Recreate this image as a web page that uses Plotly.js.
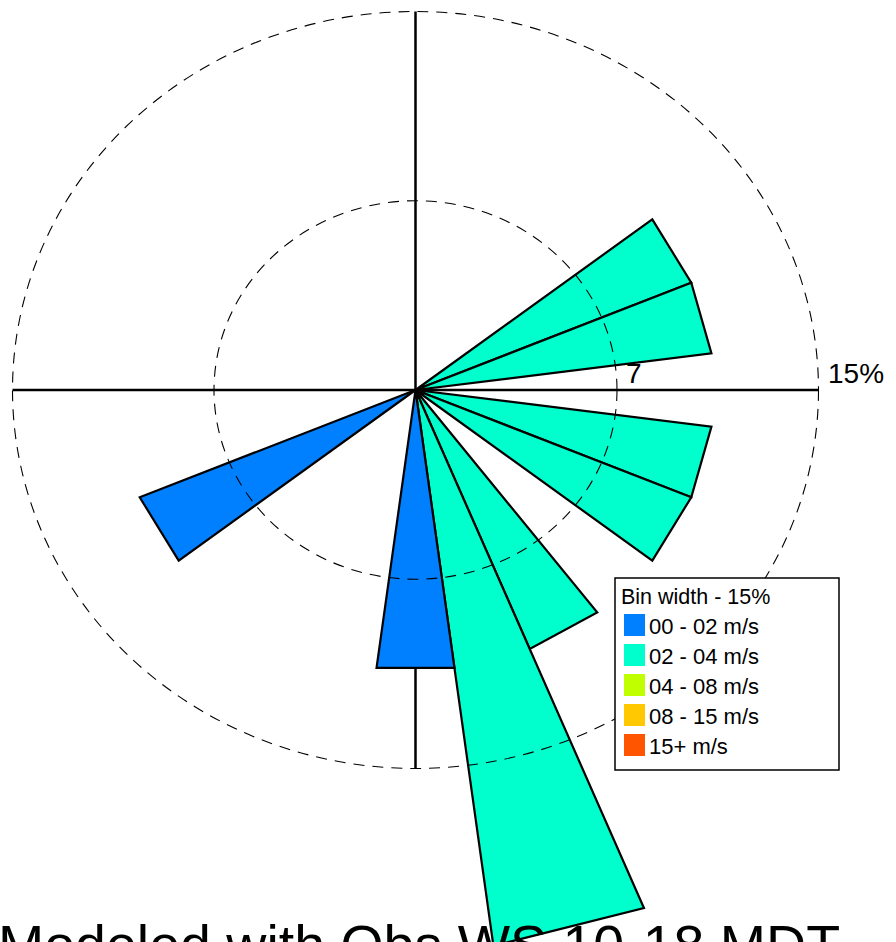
<!DOCTYPE html>
<html>
<head>
<meta charset="utf-8">
<script src="https://cdn.plot.ly/plotly-3.0.1.min.js"></script>
<style>html,body{margin:0;padding:0;background:#fff;}#chart{width:896px;height:942px;}</style>
</head>
<body>
<div id="chart"></div>
<script>
// ---- data ----
const directions = [0,15,30,45,60,75,90,105,120,135,150,165,180,195,210,225,240,255,270,285,300,315,330,345];
const speedBins = ['00 - 02 m/s','02 - 04 m/s','04 - 08 m/s','08 - 15 m/s','15+ m/s'];
const binColors = ['#0080FF','#00FFCC','#BFFF00','#FFC800','#FF5500'];
const freq_00_02 = [0,0,0,0,0,0,0,0,0,0,0,0,11.11,0,0,0,11.11,0,0,0,0,0,0,0];
const freq_02_04 = [0,0,0,0,11.11,11.11,0,11.11,11.11,0,11.11,22.22,0,0,0,0,0,0,0,0,0,0,0,0];
const freq_04_08 = [0,0,0,0,0,0,0,0,0,0,0,0,0,0,0,0,0,0,0,0,0,0,0,0];
const freq_08_15 = [0,0,0,0,0,0,0,0,0,0,0,0,0,0,0,0,0,0,0,0,0,0,0,0];
const freq_15p   = [0,0,0,0,0,0,0,0,0,0,0,0,0,0,0,0,0,0,0,0,0,0,0,0];
const ringValues = [7.5, 15];
const ringLabels = ['7', '15%'];
const legendTitle = 'Bin width - 15%';
const titleText = 'Modeled with Obs WS 10-18 MDT';

// ---- geometry of the frame (layout only) ----
const W = 896, H = 942;
const CX = 415.5, CY = 390;
const SX = 403 / 15, SY = 378.5 / 15;
const sectorWidth = 360 / directions.length;
const bins = [freq_00_02, freq_02_04, freq_04_08, freq_08_15, freq_15p];
const rMax = ringValues[ringValues.length - 1];

function pol(r, deg) {
  const a = deg * Math.PI / 180;
  return [r * Math.sin(a), r * Math.cos(a)];
}
const px = v => v / W;
const py = v => 1 - v / H;

const traces = [];
directions.forEach((d, i) => {
  let r0 = 0;
  bins.forEach((arr, b) => {
    const v = arr[i];
    if (v > 0) {
      const r1 = r0 + v;
      const a1 = d - sectorWidth / 2, a2 = d + sectorWidth / 2;
      const pts = [];
      if (r0 === 0) pts.push([0, 0]); else pts.push(pol(r0, a1));
      pts.push(pol(r1, a1));
      pts.push(pol(r1, a2));
      if (r0 !== 0) pts.push(pol(r0, a2));
      pts.push(pts[0]);
      traces.push({
        type: 'scatter', mode: 'lines',
        x: pts.map(p => p[0]), y: pts.map(p => p[1]),
        fill: 'toself', fillcolor: binColors[b],
        line: {color: '#000', width: 2.2},
        hoverinfo: 'skip', showlegend: false
      });
      r0 = r1;
    }
  });
});

const shapes = [];
// axis cross (below bars)
shapes.push({type: 'line', xref: 'x', yref: 'y', x0: -rMax, x1: rMax, y0: 0, y1: 0,
  line: {color: '#000', width: 2.5}, layer: 'below'});
shapes.push({type: 'line', xref: 'x', yref: 'y', x0: 0, x1: 0, y0: -rMax, y1: rMax,
  line: {color: '#000', width: 2.5}, layer: 'below'});
// dashed rings (above bars)
ringValues.forEach(r => {
  shapes.push({type: 'circle', xref: 'x', yref: 'y', x0: -r, x1: r, y0: -r, y1: r,
    line: {color: '#000', width: 1.1, dash: '11px,8px'}, layer: 'above'});
});

const annotations = [];
ringValues.forEach((r, k) => {
  annotations.push({xref: 'x', yref: 'y', x: r, y: 0, text: ringLabels[k], showarrow: false,
    xanchor: 'left', yanchor: 'bottom', xshift: 7, yshift: -1,
    font: {family: 'Liberation Sans, Arial, sans-serif', size: 28, color: '#000'}});
});

// legend box
const LX0 = 615, LY0 = 578, LX1 = 839, LY1 = 770;
shapes.push({type: 'rect', xref: 'paper', yref: 'paper', x0: px(LX0), x1: px(LX1), y0: py(LY1), y1: py(LY0),
  line: {color: '#000', width: 1.5}, fillcolor: '#fff', layer: 'above'});
annotations.push({xref: 'paper', yref: 'paper', x: px(619), y: py(597), text: legendTitle, showarrow: false,
  xanchor: 'left', yanchor: 'middle', font: {family: 'Liberation Sans, Arial, sans-serif', size: 21.5, color: '#000'}});
speedBins.forEach((lab, k) => {
  const cy = 625 + 30 * k;
  shapes.push({type: 'rect', xref: 'paper', yref: 'paper', x0: px(624), x1: px(645), y0: py(cy + 11), y1: py(cy - 11),
    line: {width: 0}, fillcolor: binColors[k], layer: 'above'});
  annotations.push({xref: 'paper', yref: 'paper', x: px(647), y: py(cy + 1), text: lab, showarrow: false,
    xanchor: 'left', yanchor: 'middle', font: {family: 'Liberation Sans, Arial, sans-serif', size: 22, color: '#000'}});
});

// title at bottom (cut by page edge, as in the reference)
annotations.push({xref: 'paper', yref: 'paper', x: px(419), y: py(912), text: titleText, showarrow: false,
  xanchor: 'center', yanchor: 'top', font: {family: 'Liberation Sans, Arial, sans-serif', size: 55.5, color: '#000'}});

const layout = {
  width: W, height: H,
  margin: {l: 0, r: 0, t: 0, b: 0, pad: 0},
  paper_bgcolor: '#fff', plot_bgcolor: '#fff',
  showlegend: false,
  xaxis: {range: [-CX / SX, (W - CX) / SX], visible: false, fixedrange: true},
  yaxis: {range: [-(H - CY) / SY, CY / SY], visible: false, fixedrange: true},
  shapes: shapes, annotations: annotations
};
Plotly.newPlot('chart', traces, layout, {displayModeBar: false, staticPlot: true});
</script>
</body>
</html>
